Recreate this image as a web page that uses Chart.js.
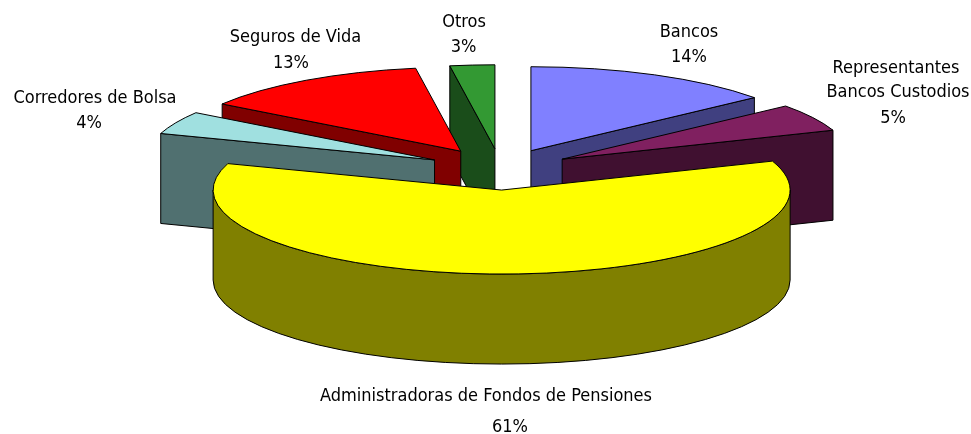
<!DOCTYPE html>
<html>
<head>
<meta charset="utf-8">
<style>html,body{margin:0;padding:0;background:#fff}canvas{display:block}</style>
<script src="https://cdn.jsdelivr.net/npm/chart.js@4"></script>
</head>
<body>
<canvas id="c" width="971" height="434"></canvas>
<script>
const categories = ["Bancos", "Representantes Bancos Custodios", "Administradoras de Fondos de Pensiones", "Corredores de Bolsa", "Seguros de Vida", "Otros"];
const shares = [14.1, 5.3, 60.7, 4.4, 13.0, 2.5];
const percentLabels = ["14%", "5%", "61%", "4%", "13%", "3%"];
const topColors = ["#8080ff", "#802060", "#ffff00", "#a0e0e0", "#ff0000", "#339933"];
const wallColors = ["#404080", "#401030", "#808000", "#507070", "#800000", "#1a4d1a"];
const explode = [0.246, 0.246, 0.246, 0.255, 0.257, 0.246];

const CX = 500.5, CY = 169.4, RX = 288.5, RY = 84, DEPTH = 90;
const drawOrder = [5, 4, 3, 0, 1, 2];
const FONT = "18px 'DejaVu Sans Condensed', 'DejaVu Sans', sans-serif";
const labelLines = [
  ["Bancos", percentLabels[0]],
  ["Representantes", "Bancos Custodios", percentLabels[1]],
  [categories[2], percentLabels[2]],
  [categories[3], percentLabels[3]],
  [categories[4], percentLabels[4]],
  [categories[5], percentLabels[5]]
];
const labelAnchors = [
  [[689, 37], [689, 62]],
  [[896, 73], [898, 97], [893, 123]],
  [[486, 401], [510, 432]],
  [[95, 103], [89, 128]],
  [[295.5, 42], [291, 68]],
  [[464, 27], [463.5, 52]]
];

const pie3d = {
  id: 'pie3d',
  beforeDatasetDraw(chart) {
    const ctx = chart.ctx;
    const arcs = chart.getDatasetMeta(0).data;
    drawOrder.forEach(i => {
      const el = arcs[i];
      const a0 = el.startAngle, a1 = el.endAngle, mid = (a0 + a1) / 2;
      const tx = CX + RX * explode[i] * Math.cos(mid);
      const ty = CY + RY * explode[i] * Math.sin(mid);
      const px = a => tx + RX * Math.cos(a), py = a => ty + RY * Math.sin(a);
      ctx.save();
      ctx.lineWidth = 1;
      ctx.strokeStyle = '#000';
      ctx.fillStyle = wallColors[i];
      ctx.lineJoin = 'round';
      const wall = a => {
        ctx.beginPath();
        ctx.moveTo(tx, ty);
        ctx.lineTo(px(a), py(a));
        ctx.lineTo(px(a), py(a) + DEPTH);
        ctx.lineTo(tx, ty + DEPTH);
        ctx.closePath();
        ctx.fill();
        ctx.stroke();
      };
      if (Math.cos(a0) < 0) wall(a0);
      if (Math.cos(a1) > 0) wall(a1);
      const lo = Math.max(a0, 0), hi = Math.min(a1, Math.PI);
      if (hi > lo) {
        ctx.beginPath();
        ctx.ellipse(tx, ty, RX, RY, 0, lo, hi);
        ctx.ellipse(tx, ty + DEPTH, RX, RY, 0, hi, lo, true);
        ctx.closePath();
        ctx.fill();
        ctx.stroke();
      }
      ctx.save();
      ctx.translate(tx, ty);
      ctx.scale(RX / el.outerRadius, RY / el.outerRadius);
      ctx.translate(-el.x, -el.y);
      el.draw(ctx);
      ctx.restore();
      ctx.beginPath();
      ctx.moveTo(tx, ty);
      ctx.ellipse(tx, ty, RX, RY, 0, a0, a1);
      ctx.closePath();
      ctx.stroke();
      ctx.restore();
    });
    return false;
  },
  afterDraw(chart) {
    const ctx = chart.ctx;
    ctx.save();
    ctx.font = FONT;
    ctx.fillStyle = '#000';
    ctx.textAlign = 'center';
    ctx.textBaseline = 'alphabetic';
    labelLines.forEach((lines, i) => lines.forEach((t, n) => ctx.fillText(t, labelAnchors[i][n][0], labelAnchors[i][n][1])));
    ctx.restore();
  }
};

new Chart(document.getElementById('c'), {
  type: 'pie',
  data: {
    labels: categories,
    datasets: [{data: shares, backgroundColor: topColors, borderWidth: 0, offset: 0}]
  },
  options: {
    responsive: false,
    animation: false,
    radius: 150,
    layout: {padding: 0},
    plugins: {legend: {display: false}, tooltip: {enabled: false}, title: {display: false}}
  },
  plugins: [pie3d]
});
</script>
</body>
</html>
